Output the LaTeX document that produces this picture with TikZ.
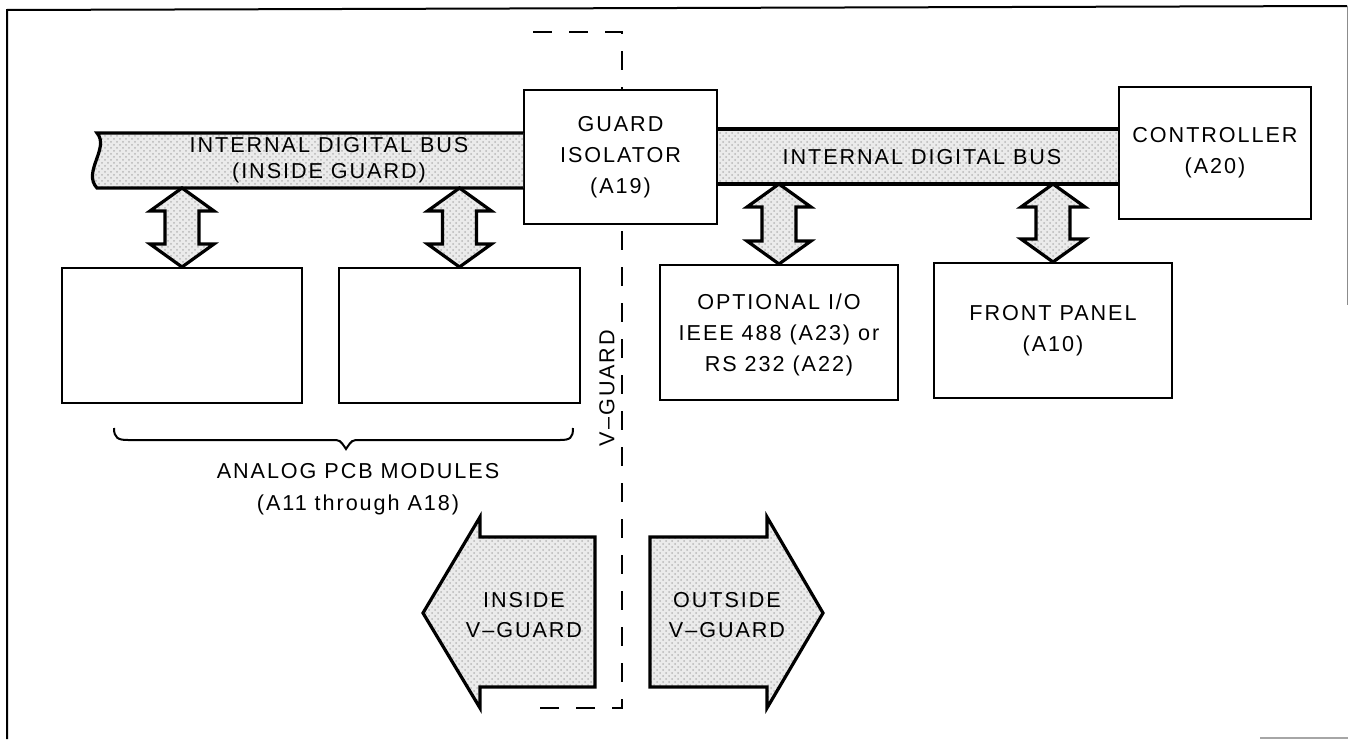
\documentclass[tikz,border=0pt]{standalone}
\usepackage{fontspec}
\setmainfont{Liberation Sans}[LetterSpace=9]
\usetikzlibrary{calc,patterns}
\begin{document}
\begin{tikzpicture}[x=0.5pt,y=-0.5pt,
  txt/.style={font=\fontsize{10.8}{15.5}\selectfont, align=center, inner sep=0pt},
  blk/.style={draw, line width=1pt, fill=white, txt},
  busfill/.style={preaction={fill=black!8}, pattern=crosshatch dots, pattern color=black!28},
  busline/.style={line width=1.6pt},
  dblarrow/.style={draw, line width=1.6pt, preaction={fill=black!8}, pattern=crosshatch dots, pattern color=black!28, line join=miter},
  guardline/.style={line width=1pt, dash pattern=on 9.5pt off 8.5pt}
]
\useasboundingbox (0,0) rectangle (1348,739);
% frame
\draw[line width=1pt] (7,739) -- (7,10) -- (1347,6);
\draw[black!45, line width=0.4pt] (1347,6) -- (1347,305);
\draw[black!35, line width=0.6pt] (1260,738) -- (1348,738);

% V-guard dashed boundary
\coordinate (gtl) at (533,32);
\coordinate (gtr) at (622,32);
\coordinate (gbr) at (622,708);
\coordinate (gbl) at (537,708);
\draw[guardline] (gtl) -- (gtr) -- (gbr) -- (gbl);

% blocks
\node[blk, minimum width=96.5pt, minimum height=67pt] (g) at (620.5,157) {GUARD\\ISOLATOR\\(A19)};
\node[blk, minimum width=96pt, minimum height=66pt] (c) at (1215,153) {CONTROLLER\\(A20)};
\node[blk, minimum width=120pt, minimum height=67.5pt] (b1) at (182,335.5) {};
\node[blk, minimum width=120.5pt, minimum height=67.5pt] (b2) at (459.5,335.5) {};
\node[blk, minimum width=119pt, minimum height=67.5pt, text depth=0pt] (b3) at (779,332.5) {OPTIONAL I/O\\IEEE 488 (A23) or\\RS 232 (A22)};
\node[blk, minimum width=119pt, minimum height=67.5pt] (b4) at (1053,330.5) {FRONT PANEL\\(A10)};

% left bus (inside guard)
\coordinate (lbt) at (97,133);
\coordinate (lbb) at (97,188);
\fill[busfill] (lbt) -- (g.west |- lbt) -- (g.west |- lbb) -- (lbb)
   .. controls (82,172) and (110,148) .. (lbt) -- cycle;
\draw[busline] (g.west |- lbt) -- (lbt) .. controls (110,148) and (82,172) .. (lbb) -- (g.west |- lbb);
\node[txt, font=\fontsize{10.8}{13}\selectfont] (lbus) at (329,160) {INTERNAL DIGITAL BUS\\(INSIDE GUARD)};

% right bus
\coordinate (rbt) at (0,129);
\coordinate (rbb) at (0,184);
\fill[busfill] (g.east |- rbt) rectangle (c.west |- rbb);
\draw[busline] (g.east |- rbt) -- (c.west |- rbt);
\draw[busline] (g.east |- rbb) -- (c.west |- rbb);
\node[txt] (rbus) at (922,157) {INTERNAL DIGITAL BUS};

% double arrows between bus and boxes
\newcommand\busarrow[2]{%
  \draw[dblarrow] (#1) -- ++(32,23) -- ++(-15,0) -- ($(#2)+(17,-23)$) -- ++(15,0)
    -- (#2) -- ++(-32,-23) -- ++(15,0) -- ($(#1)+(-17,23)$) -- ++(-15,0) -- cycle;}
\coordinate (a1t) at (b1.north |- lbb);
\coordinate (a2t) at (b2.north |- lbb);
\coordinate (a3t) at (b3.north |- rbb);
\coordinate (a4t) at (b4.north |- rbb);
\busarrow{a1t}{b1.north}
\busarrow{a2t}{b2.north}
\busarrow{a3t}{b3.north}
\busarrow{a4t}{b4.north}

% brace and label
\coordinate (brl) at (114,428);
\coordinate (brr) at (573,428);
\coordinate (brt) at (346,449);
\draw[line width=1pt] (brl) .. controls (114,438) and (118,440) .. (128,440) -- (332,440)
   .. controls (340,440) .. (brt) .. controls (352,440) .. (360,440) -- (560,440)
   .. controls (570,440) and (573,438) .. (brr);
\node[txt, font=\fontsize{10.8}{16}\selectfont] (an) at (358,489) {ANALOG PCB MODULES\\(A11 through A18)};

% V-GUARD label
\node[txt, rotate=90] (vg) at (607,388) {V--GUARD};

% inside / outside arrows
\draw[dblarrow] (595,537) -- (480,537) -- (480,517) -- (423,613) -- (480,708) -- (480,687) -- (595,687) -- cycle;
\draw[dblarrow] (650,537) -- (767,537) -- (767,517) -- (823,613) -- (767,708) -- (767,687) -- (650,687) -- cycle;
\node[txt, font=\fontsize{10.8}{15}\selectfont] (ins) at (524,615) {INSIDE\\V--GUARD};
\node[txt, font=\fontsize{10.8}{15}\selectfont] (outs) at (727,615) {OUTSIDE\\V--GUARD};
\end{tikzpicture}
\end{document}
